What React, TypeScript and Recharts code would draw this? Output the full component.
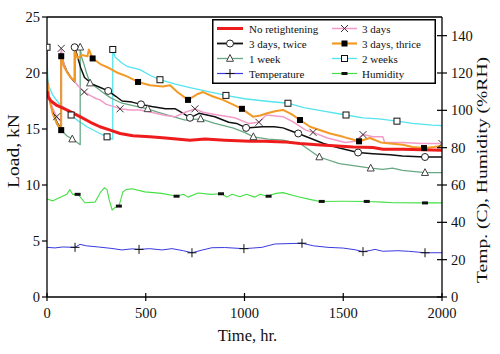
import React from 'react';
import { ComposedChart, Line, Scatter, XAxis, YAxis, ReferenceLine, Legend, Label } from 'recharts';

type P = [number, number];

// ---- Load series (kN) : [time hr, load] ----
const noRetightening: P[] = [
  [0, 18.4], [5, 17.9], [20, 17.5], [50, 17.1], [100, 16.7], [167, 16.1], [220, 15.6], [268, 15.2],
  [320, 14.9], [370, 14.6], [435, 14.4], [521, 14.3], [600, 14.2], [724, 14.0], [800, 14.1], [900, 14.0],
  [1028, 13.9], [1100, 13.9], [1200, 13.85], [1281, 13.7], [1367, 13.6], [1450, 13.5], [1550, 13.4],
  [1650, 13.35], [1701, 13.2], [1800, 13.2], [1900, 13.15], [2000, 13.1],
];
const threeDays: P[] = [
  [2, 19.2], [10, 18.0], [30, 16.8], [49, 16.1], [72, 15.6], [72, 22.2], [80, 21.2], [91, 20.5], [110, 19.8],
  [137, 19.3], [160, 18.8], [189, 18.3], [218, 18.0], [250, 17.7], [268, 17.6], [300, 17.2], [340, 17.0],
  [370, 16.8], [420, 16.7], [471, 16.7], [550, 16.4], [600, 16.2], [650, 16.1], [700, 16.5], [749, 16.8],
  [790, 16.5], [850, 16.3], [950, 16.0], [1020, 15.5], [1073, 15.6], [1110, 16.25], [1195, 16.1],
  [1250, 15.6], [1310, 14.9], [1347, 14.7], [1420, 14.2], [1510, 13.8], [1560, 13.9], [1600, 14.5],
  [1650, 14.3], [1700, 14.3], [1710, 13.8], [1800, 13.8], [1900, 13.7], [2000, 13.7],
];
const threeDaysTwice: P[] = [
  [2, 19.2], [10, 17.8], [30, 16.5], [50, 15.6], [72, 15.0], [72, 21.8], [85, 20.8], [100, 20.2], [120, 19.6],
  [140, 19.2], [140, 22.3], [152, 21.6], [170, 20.5], [190, 19.6], [230, 19.0], [270, 18.7], [310, 18.4],
  [350, 17.9], [380, 17.5], [430, 17.4], [476, 17.2], [530, 17.0], [600, 16.8], [650, 16.8], [690, 16.4],
  [724, 16.0], [770, 16.4], [850, 16.1], [920, 15.6], [960, 15.5], [1008, 15.1], [1090, 15.2], [1150, 15.2],
  [1195, 15.1], [1240, 14.8], [1272, 14.6], [1330, 14.2], [1400, 13.7], [1480, 13.3], [1575, 12.9],
  [1650, 12.8], [1737, 12.7], [1800, 12.6], [1914, 12.5], [2000, 12.5],
];
const threeDaysThrice: P[] = [
  [2, 19.2], [10, 17.8], [30, 16.3], [50, 15.5], [72, 14.9], [72, 21.5], [85, 20.6], [100, 20.1], [120, 19.6],
  [140, 19.3], [140, 22.0], [155, 21.3], [175, 21.6], [205, 21.5], [212, 22.1], [231, 21.3], [270, 20.8],
  [319, 20.4], [360, 20.0], [405, 19.7], [461, 19.2], [521, 18.9], [587, 18.8], [623, 18.9], [660, 18.3],
  [714, 17.6], [760, 18.1], [790, 18.3], [840, 17.9], [891, 17.6], [940, 17.2], [987, 16.8], [1043, 16.1],
  [1080, 16.2], [1114, 16.4], [1160, 16.6], [1195, 16.7], [1240, 16.3], [1281, 15.8], [1332, 15.2],
  [1433, 14.6], [1500, 14.3], [1580, 13.9], [1635, 14.2], [1690, 13.8], [1737, 13.7], [1802, 13.6],
  [1850, 13.4], [1909, 13.3], [1960, 13.4], [2000, 13.5],
];
const oneWeek: P[] = [
  [0, 22.3], [3, 19.3], [10, 18.0], [30, 16.4], [50, 15.4], [72, 14.9], [100, 14.4], [128, 14.1], [145, 13.9],
  [168, 13.6], [168, 22.3], [175, 21.4], [185, 20.9], [200, 20.0], [218, 19.1], [250, 18.7], [280, 18.3],
  [320, 17.8], [380, 17.3], [430, 17.1], [510, 16.8], [560, 16.5], [620, 16.2], [700, 15.8], [778, 15.9],
  [850, 15.5], [940, 15.1], [1000, 14.7], [1045, 14.3], [1120, 14.1], [1195, 14.0], [1281, 13.7],
  [1330, 13.1], [1379, 12.5], [1480, 11.9], [1560, 11.7], [1639, 11.5], [1700, 11.4], [1750, 11.5],
  [1800, 11.3], [1914, 11.1], [2000, 11.1],
];
const twoWeeks: P[] = [
  [0, 22.3], [3, 19.6], [10, 18.8], [30, 18.0], [60, 17.3], [100, 16.7], [122, 16.25], [160, 15.7],
  [202, 15.2], [268, 14.6], [304, 14.3], [333, 14.1], [333, 22.1], [345, 21.4], [380, 20.9], [405, 20.6],
  [471, 20.3], [521, 19.8], [572, 19.4], [650, 19.0], [724, 18.7], [800, 18.4], [906, 18.0], [1000, 17.7],
  [1100, 17.5], [1220, 17.3], [1300, 16.9], [1400, 16.6], [1514, 16.25], [1600, 16.0], [1680, 15.9],
  [1772, 15.7], [1850, 15.5], [1950, 15.35], [2000, 15.3],
];

// ---- Environment series (right axis) ----
const temperature: P[] = [
  [0, 26.6], [40, 26.3], [80, 26.8], [142, 26.6], [167, 28.2], [200, 27.4], [260, 26.8], [329, 26.0],
  [380, 25.2], [430, 25.8], [466, 25.5], [520, 25.9], [582, 25.2], [633, 25.9], [690, 24.8], [734, 23.7],
  [780, 25.0], [835, 26.4], [900, 26.5], [997, 25.9], [1040, 26.2], [1088, 26.6], [1120, 27.5], [1155, 28.4],
  [1220, 28.6], [1291, 28.8], [1350, 27.4], [1423, 26.6], [1500, 26.2], [1560, 25.3], [1600, 24.3],
  [1640, 25.0], [1661, 25.5], [1700, 24.5], [1777, 24.8], [1830, 24.5], [1914, 23.7], [2000, 23.7],
];
const humidity: P[] = [
  [0, 52.5], [30, 51.5], [60, 53], [100, 55], [116, 57.5], [130, 55], [157, 55], [192, 50.5], [243, 50.8],
  [270, 56], [290, 58.5], [304, 57.5], [315, 52], [330, 46.6], [345, 48], [364, 48.7], [385, 56.4],
  [400, 57.5], [430, 58], [496, 56.3], [580, 55.5], [658, 54], [690, 55], [714, 53.5], [765, 55.7],
  [830, 55], [886, 55.3], [910, 53.5], [937, 55], [977, 53.7], [1010, 55], [1050, 53.5], [1080, 55],
  [1114, 54], [1160, 55.5], [1195, 55.9], [1266, 53.8], [1330, 52.3], [1382, 51.2], [1500, 51.3],
  [1620, 51.2], [1700, 50.8], [1752, 50.5], [1914, 50.4], [2000, 50.4],
];

// ---- Marker positions ----
const threeDaysMarks: P[] = [[49, 16.1], [72, 22.2], [189, 18.3], [370, 16.8], [749, 16.8], [1073, 15.6], [1347, 14.7], [1600, 14.5], [2000, 13.7]];
const threeDaysTwiceMarks: P[] = [[140, 22.3], [310, 18.4], [476, 17.2], [724, 16.0], [1008, 15.1], [1272, 14.6], [1575, 12.9], [1914, 12.5]];
const threeDaysThriceMarks: P[] = [[72, 14.9], [72, 21.5], [231, 21.3], [461, 19.2], [714, 17.6], [987, 16.8], [1281, 15.8], [1580, 13.9], [1909, 13.3]];
const oneWeekMarks: P[] = [[128, 14.1], [168, 22.3], [218, 19.1], [510, 16.8], [778, 15.9], [1045, 14.3], [1379, 12.5], [1639, 11.5], [1914, 11.1]];
const twoWeeksMarks: P[] = [[0, 22.3], [122, 16.25], [304, 14.3], [333, 22.1], [572, 19.4], [906, 18.0], [1220, 17.3], [1514, 16.25], [1772, 15.7]];
const temperatureMarks: P[] = [[142, 26.6], [466, 25.5], [734, 23.7], [997, 25.9], [1291, 28.8], [1600, 24.3], [1914, 23.7]];
const humidityMarks: P[] = [[155, 55], [364, 48.7], [656, 54], [881, 55.3], [1122, 54], [1391, 51.2], [1619, 51.2], [1914, 50.4]];

const timeTicks = [0, 500, 1000, 1500, 2000];
const loadTicks = [0, 5, 10, 15, 20, 25];
const envTicks = [0, 20, 40, 60, 80, 100, 120, 140];

const pts = (a: P[]) => a.map(([t, v]) => ({ t, v }));

const FONT = '"Liberation Serif", "Times New Roman", serif';

const C = {
  red: '#ee1c1c',
  pink: '#f49ac8',
  black: '#111111',
  orange: '#f39a26',
  green: '#68a884',
  cyan: '#55e4ee',
  blue: '#3a3ae0',
  hum: '#44e044',
};

type MK = (cx: number, cy: number, k?: any) => React.ReactElement;
const mkCross: MK = (cx, cy, k) => (
  <g key={k}>
    <line x1={cx - 3.5} y1={cy - 3.5} x2={cx + 3.5} y2={cy + 3.5} stroke="#333" strokeWidth={1} />
    <line x1={cx - 3.5} y1={cy + 3.5} x2={cx + 3.5} y2={cy - 3.5} stroke="#333" strokeWidth={1} />
  </g>
);
const mkCircle: MK = (cx, cy, k) => <circle key={k} cx={cx} cy={cy} r={3.5} fill="#fff" stroke="#222" strokeWidth={1} />;
const mkFilledSq: MK = (cx, cy, k) => <rect key={k} x={cx - 3} y={cy - 3} width={6} height={6} fill="#000" />;
const mkTri: MK = (cx, cy, k) => (
  <polygon key={k} points={`${cx},${cy - 4} ${cx - 3.5},${cy + 2.8} ${cx + 3.5},${cy + 2.8}`} fill="#fff" stroke="#444" strokeWidth={1} />
);
const mkOpenSq: MK = (cx, cy, k) => <rect key={k} x={cx - 3} y={cy - 3} width={6} height={6} fill="#fff" stroke="#111" strokeWidth={1} />;
const mkPlus: MK = (cx, cy, k) => (
  <g key={k}>
    <line x1={cx - 4.5} y1={cy} x2={cx + 4.5} y2={cy} stroke="#111" strokeWidth={1} />
    <line x1={cx} y1={cy - 4.5} x2={cx} y2={cy + 4.5} stroke="#111" strokeWidth={1} />
  </g>
);
const mkDash: MK = (cx, cy, k) => <rect key={k} x={cx - 3} y={cy - 1.5} width={6} height={3} fill="#111" />;

const shapeOf = (mk: MK) => (props: any) => mk(props.cx, props.cy);

const legendItems = [
  { name: 'No retightening', color: C.red, w: 3, mk: null as MK | null },
  { name: '3 days', color: C.pink, w: 1.5, mk: mkCross },
  { name: '3 days, twice', color: C.black, w: 1.8, mk: mkCircle },
  { name: '3 days, thrice', color: C.orange, w: 2.2, mk: mkFilledSq },
  { name: '1 week', color: C.green, w: 1.3, mk: mkTri },
  { name: '2 weeks', color: C.cyan, w: 1.3, mk: mkOpenSq },
  { name: 'Temperature', color: C.blue, w: 1.2, mk: mkPlus },
  { name: 'Humidity', color: C.hum, w: 1.2, mk: mkDash },
];

function LegendBox() {
  return (
    <svg width={224} height={65} style={{ display: 'block' }}>
      <rect x={0.75} y={0.75} width={222.5} height={63.5} fill="#fff" stroke="#000" strokeWidth={1.5} />
      {legendItems.map((it, i) => {
        const col = i % 2;
        const row = Math.floor(i / 2);
        const y = 9.5 + row * 15;
        const x0 = col === 0 ? 5 : 120;
        const x1 = col === 0 ? 31 : 145;
        const mx = (x0 + x1) / 2;
        const tx = col === 0 ? 37 : 150;
        return (
          <g key={i}>
            <line x1={x0} y1={y} x2={x1} y2={y} stroke={it.color} strokeWidth={it.w} />
            {it.mk ? it.mk(mx, y) : null}
            <text x={tx} y={y + 4} fontSize={11} fontFamily={FONT} fill="#111">{it.name}</text>
          </g>
        );
      })}
    </svg>
  );
}

const LeftTick = (p: any) => (
  <g>
    <line x1={p.x - 5} y1={p.y} x2={p.x} y2={p.y} stroke="#000" strokeWidth={1.2} />
    <text x={p.x - 7} y={p.y} dy="0.35em" textAnchor="end" fontSize={14.5} fontFamily={FONT} fill="#111">{p.payload.value}</text>
  </g>
);
const RightTick = (p: any) => (
  <g>
    <line x1={p.x - 5} y1={p.y} x2={p.x + 5} y2={p.y} stroke="#000" strokeWidth={1.2} />
    <text x={p.x + 9} y={p.y} dy="0.35em" textAnchor="start" fontSize={14.5} fontFamily={FONT} fill="#111">{p.payload.value}</text>
  </g>
);
const BottomTick = (p: any) => (
  <g>
    <line x1={p.x} y1={p.y - 4} x2={p.x} y2={p.y + 4} stroke="#000" strokeWidth={1.2} />
    <text x={p.x} y={p.y + 21} textAnchor="middle" fontSize={14.5} fontFamily={FONT} fill="#111">{p.payload.value}</text>
  </g>
);

const LoadLabel = (props: any) => {
  const vb = props.viewBox || { x: 0, y: 17, width: 47, height: 280 };
  const cx = vb.x + 19;
  const cy = vb.y + vb.height / 2 - 6;
  return (
    <text x={cx} y={cy} transform={`rotate(-90 ${cx} ${cy})`} textAnchor="middle" fontSize={16} fontFamily={FONT} fill="#111" textLength={74} lengthAdjust="spacingAndGlyphs">
      Load, kN
    </text>
  );
};
const EnvLabel = (props: any) => {
  const vb = props.viewBox || { x: 442, y: 17, width: 58, height: 280 };
  const cx = vb.x + 45;
  const cy = 170;
  return (
    <text x={cx} y={cy} transform={`rotate(-90 ${cx} ${cy})`} textAnchor="middle" fontSize={15} fontFamily={FONT} fill="#111" textLength={226} lengthAdjust="spacingAndGlyphs">
      Temp. (C),   Humidity (%RH)
    </text>
  );
};
const TimeLabel = (props: any) => {
  const vb = props.viewBox || { x: 47, y: 297, width: 395, height: 57 };
  return (
    <text x={vb.x + vb.width / 2 + 3} y={341} textAnchor="middle" fontSize={16.5} fontFamily={FONT} fill="#111">
      Time, hr.
    </text>
  );
};

export default function App() {
  const line = (data: P[], color: string, w: number, axis: string) => (
    <Line
      yAxisId={axis}
      data={pts(data)}
      dataKey="v"
      type="linear"
      stroke={color}
      strokeWidth={w}
      dot={false}
      activeDot={false}
      isAnimationActive={false}
      strokeLinejoin="round"
    />
  );
  const marks = (data: P[], mk: MK, axis: string) => (
    <Scatter yAxisId={axis} data={pts(data)} dataKey="v" shape={shapeOf(mk)} isAnimationActive={false} />
  );
  return (
    <div style={{ position: 'absolute', left: 0, top: 0, background: '#fff' }}>
      <ComposedChart width={500} height={354} margin={{ top: 17, right: 0, bottom: 0, left: 0 }}>
        <XAxis
          dataKey="t"
          type="number"
          domain={[0, 2000]}
          ticks={timeTicks}
          allowDataOverflow
          height={57}
          tickSize={0}
          tickMargin={0}
          tickLine={false}
          tick={BottomTick}
          axisLine={{ stroke: '#000', strokeWidth: 1.3 }}
          label={<Label content={TimeLabel} />}
        />
        <YAxis
          yAxisId="left"
          orientation="left"
          type="number"
          domain={[0, 25]}
          ticks={loadTicks}
          width={47}
          tickSize={0}
          tickMargin={0}
          tickLine={false}
          tick={LeftTick}
          axisLine={{ stroke: '#000', strokeWidth: 1.3 }}
          label={<Label content={LoadLabel} />}
        />
        <YAxis
          yAxisId="right"
          orientation="right"
          type="number"
          domain={[0, 150]}
          ticks={envTicks}
          width={58}
          tickSize={0}
          tickMargin={0}
          tickLine={false}
          tick={RightTick}
          axisLine={{ stroke: '#000', strokeWidth: 1.3 }}
          label={<Label content={EnvLabel} />}
        />
        <ReferenceLine yAxisId="left" y={25} stroke="#000" strokeWidth={1.3} />
        {line(temperature, C.blue, 1, 'right')}
        {line(humidity, C.hum, 1.1, 'right')}
        {line(twoWeeks, C.cyan, 1.3, 'left')}
        {line(oneWeek, C.green, 1.3, 'left')}
        {line(threeDaysTwice, C.black, 1.5, 'left')}
        {line(threeDays, C.pink, 1.5, 'left')}
        {line(threeDaysThrice, C.orange, 2, 'left')}
        {line(noRetightening, C.red, 3, 'left')}
        {marks(temperatureMarks, mkPlus, 'right')}
        {marks(humidityMarks, mkDash, 'right')}
        {marks(twoWeeksMarks, mkOpenSq, 'left')}
        {marks(oneWeekMarks, mkTri, 'left')}
        {marks(threeDaysTwiceMarks, mkCircle, 'left')}
        {marks(threeDaysMarks, mkCross, 'left')}
        {marks(threeDaysThriceMarks, mkFilledSq, 'left')}
        <Legend
          layout="horizontal"
          verticalAlign="middle"
          align="center"
          content={() => <LegendBox />}
          wrapperStyle={{ position: 'absolute', left: 212, top: 19, width: 224, height: 65 }}
        />
      </ComposedChart>
    </div>
  );
}
